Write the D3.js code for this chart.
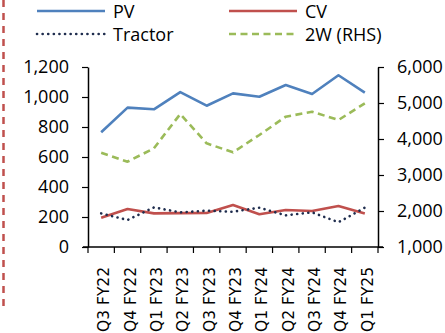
<!DOCTYPE html>
<html>
<head>
<meta charset="utf-8">
<script src="https://cdn.jsdelivr.net/npm/d3@7"></script>
<style>
  html, body { margin: 0; padding: 0; background: #fff; }
  svg { display: block; }
  text { font-family: "Open Sans", Lato, sans-serif; fill: #000; }
</style>
</head>
<body>
<svg id="chart" width="445" height="333"></svg>
<script>
// Quarterly volumes: PV, CV, Tractor on the left axis; 2W on the right axis
const quarters = ["Q3 FY22", "Q4 FY22", "Q1 FY23", "Q2 FY23", "Q3 FY23", "Q4 FY23",
                  "Q1 FY24", "Q2 FY24", "Q3 FY24", "Q4 FY24", "Q1 FY25"];
const pv      = [765, 929, 918, 1033, 942, 1024, 1002, 1080, 1020, 1145, 1029];
const cv      = [195, 253, 224, 226, 227, 280, 218, 247, 240, 273, 224];
const tractor = [224, 180, 264, 231, 242, 235, 262, 211, 231, 165, 262];
const twoW    = [3619, 3369, 3742, 4694, 3880, 3630, 4111, 4620, 4758, 4528, 4991];
const leftTicks  = [0, 200, 400, 600, 800, 1000, 1200];
const rightTicks = [1000, 2000, 3000, 4000, 5000, 6000];

const svg = d3.select("#chart");
const fmt = d3.format(",");

const x = d3.scaleBand().domain(quarters).range([88, 378]);
const yL = d3.scaleLinear().domain([0, 1200]).range([247, 67]);
const yR = d3.scaleLinear().domain([1000, 6000]).range([247, 67]);

// Dashed red rule along the left edge
svg.append("line")
  .attr("x1", 3.5).attr("x2", 3.5).attr("y1", 0).attr("y2", 308)
  .attr("stroke", "#c0504d").attr("stroke-width", 2.5)
  .attr("stroke-dasharray", "7,6");

// Left axis
const gL = svg.append("g").attr("transform", "translate(88,0)")
  .call(d3.axisLeft(yL).tickValues(leftTicks).tickFormat(fmt).tickSize(6).tickSizeOuter(0));
// Right axis
const gR = svg.append("g").attr("transform", "translate(378,0)")
  .call(d3.axisRight(yR).tickValues(rightTicks).tickFormat(fmt).tickSize(6).tickSizeOuter(0));
// Bottom axis with ticks at category boundaries
const bounds = quarters.map(q => x(q)).concat([x.range()[1]]);
const gX = svg.append("g").attr("transform", "translate(0,247)");
gX.append("line").attr("x1", 83).attr("x2", 383).attr("y1", 0).attr("y2", 0)
  .attr("stroke", "#000").attr("stroke-width", 1.5);
gX.selectAll("line.tk").data(bounds).join("line").attr("class", "tk")
  .attr("x1", d => d).attr("x2", d => d).attr("y1", 0).attr("y2", 6)
  .attr("stroke", "#000").attr("stroke-width", 1.2);
gX.selectAll("text").data(quarters).join("text")
  .attr("transform", d => `translate(${x(d) + x.bandwidth() / 2 + 8},${85}) rotate(-90)`)
  .attr("text-anchor", "start")
  .style("font-family", "'DejaVu Sans', sans-serif")
  .style("font-size", "15.5px")
  .text(d => d);

[gL, gR].forEach(g => {
  g.select(".domain").attr("stroke", "#000").attr("stroke-width", 1.5);
  g.selectAll(".tick line").attr("stroke", "#000").attr("stroke-width", 1.2);
  g.selectAll(".tick text").style("font-size", "18px").attr("fill", "#000");
});
gL.selectAll(".tick text").attr("x", -19);
gR.selectAll(".tick text").attr("x", 19);

const cx = d => x(d) + x.bandwidth() / 2;
const lineL = vals => d3.line().x((d, i) => cx(quarters[i])).y(d => yL(d))(vals);
const lineR = vals => d3.line().x((d, i) => cx(quarters[i])).y(d => yR(d))(vals);

const series = [
  { name: "PV", path: lineL(pv), color: "#4f81bd", dash: null, cap: "butt", w: 2.6 },
  { name: "CV", path: lineL(cv), color: "#c0504d", dash: null, cap: "butt", w: 2.6 },
  { name: "Tractor", path: lineL(tractor), color: "#1f2d4e", dash: "0.1,5.5", cap: "round", w: 2.6 },
  { name: "2W (RHS)", path: lineR(twoW), color: "#9bbb59", dash: "7,4.5", cap: "butt", w: 2.6 }
];

svg.append("g").selectAll("path").data(series).join("path")
  .attr("d", d => d.path)
  .attr("fill", "none")
  .attr("stroke", d => d.color)
  .attr("stroke-width", d => d.w)
  .attr("stroke-linecap", d => d.cap)
  .attr("stroke-linejoin", "round")
  .attr("stroke-dasharray", d => d.dash);

// Legend: two columns, two rows
const legendPos = [[37, 11], [229, 11], [37, 34], [229, 34]];
const lg = svg.append("g").selectAll("g").data(series).join("g")
  .attr("transform", (d, i) => `translate(${legendPos[i][0]},${legendPos[i][1]})`);
lg.append("line").attr("x1", 0).attr("x2", 68).attr("y1", 0).attr("y2", 0)
  .attr("stroke", d => d.color).attr("stroke-width", d => d.w)
  .attr("stroke-linecap", d => d.cap)
  .attr("stroke-dasharray", d => d.dash);
lg.append("text").attr("x", 76).attr("y", 6.5).style("font-size", "18px").text(d => d.name);
</script>
</body>
</html>
